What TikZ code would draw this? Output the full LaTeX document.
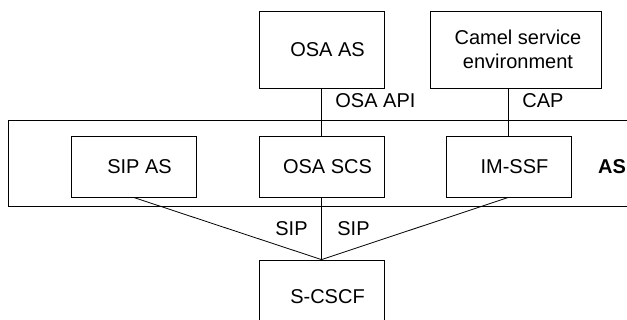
\documentclass[tikz,border=0pt]{standalone}
\usepackage{fontspec}
\setmainfont{Liberation Sans}
\tikzset{
  blk/.style={draw, line width=0.8pt, inner sep=0pt, align=center},
  lbl/.style={inner sep=0pt, align=center, font=\fontsize{20}{24}\selectfont},
  txt/.style={label={[lbl, xshift=6pt]center:#1}}
}
\begin{document}
\begin{tikzpicture}[x=1pt, y=-1pt, line width=0.8pt, font=\fontsize{20}{24}\selectfont]
    \clip (0,0) rectangle (627,320);
    \fill[white] (0,0) rectangle (627,320);

    % Frame
    \node[blk, minimum width=640pt, minimum height=86pt] (asframe) at (328,163) {};
    \node[lbl, font=\fontsize{20}{24}\selectfont\bfseries] (aslbl) at (612,167) {AS};

    % Nodes
    \node[blk, txt={OSA AS}, minimum width=125pt, minimum height=77pt] (osaas) at (321.5,49.5) {};
    \node[blk, minimum width=171pt, minimum height=77pt] (camel) at (515.5,49.5) {};
    \node[lbl, xshift=2.5pt] (camellbl) at (camel) {Camel service\\environment};
    \node[blk, txt={SIP AS}, minimum width=125pt, minimum height=61pt] (sipas) at (133.5,166.5) {};
    \node[blk, txt={OSA SCS}, minimum width=125pt, minimum height=61pt] (osascs) at (321.5,166.5) {};
    \node[blk, txt={IM-SSF}, minimum width=125pt, minimum height=61pt] (imssf) at (508.5,166.5) {};
    \node[blk, minimum width=125pt, minimum height=100pt] (scscf) at (321.5,310) {};
    \node[lbl, xshift=6pt] (scscflbl) at (321.5,297) {S-CSCF};

    % Text on lines
    \node[lbl, anchor=west] (osaapi) at (335,101) {OSA API};
    \node[lbl, anchor=west] (cap) at (522,101) {CAP};
    \node[lbl, anchor=east] (sipleft) at (308,229) {SIP};
    \node[lbl, anchor=west] (sipright) at (337,229) {SIP};

    % Connection
    \draw (osaas) -- (osascs);
    \draw (imssf.north) -- (imssf.north |- camel.south);
    \draw (sipas.south) -- (scscf.north);
    \draw (osascs) -- (scscf.north);
    \draw (imssf.south) -- (scscf.north);
\end{tikzpicture}
\end{document}
